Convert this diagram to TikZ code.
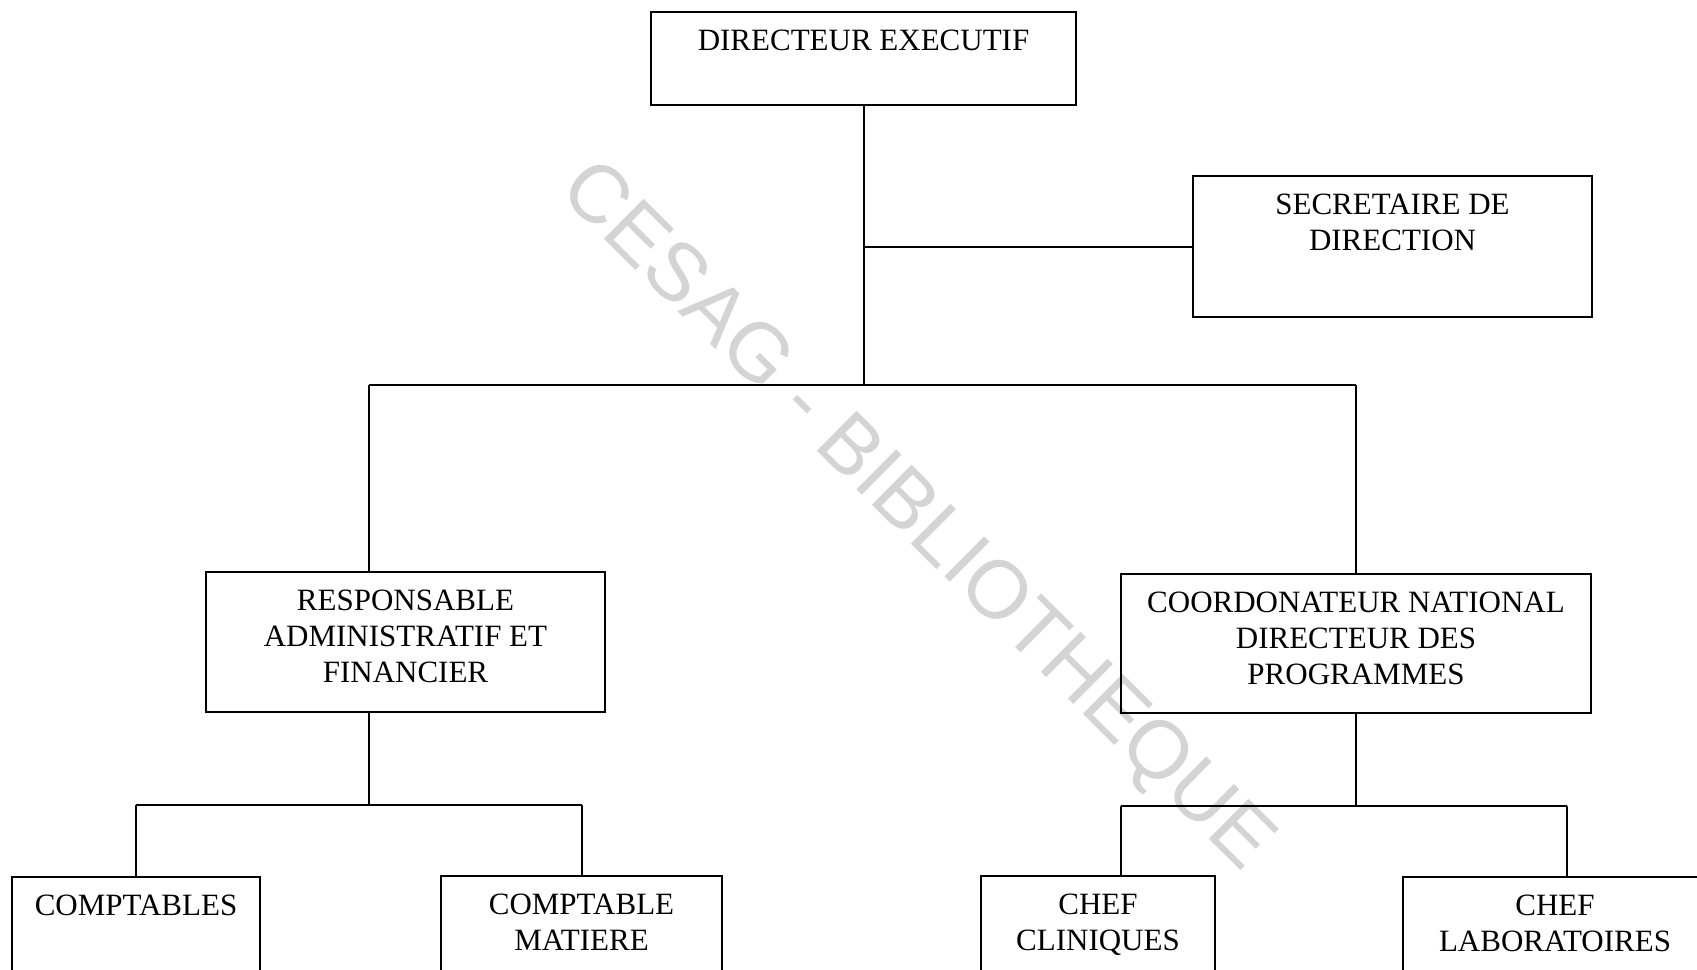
\documentclass[tikz,border=0pt]{standalone}
\usepackage{fontspec}
\setmainfont{Liberation Serif}
\newfontfamily\wmfont{Liberation Sans}
\usetikzlibrary{fit}
\begin{document}
\begin{tikzpicture}[x=0.5pt,y=-0.5pt,
  box/.style={draw, line width=1pt, inner sep=0pt},
  lbl/.style={font=\fontsize{15.5}{18}\selectfont, align=center, inner sep=0pt, anchor=north},
  link/.style={line width=1pt}]
\useasboundingbox (0,0) rectangle (1697,969);
\clip (0,0) rectangle (1697,969);
\fill[white] (0,0) rectangle (1697,969);
% watermark
\node[font=\wmfont\fontsize{41}{41}\selectfont, text=black!17, rotate=-44.8, inner sep=0pt] (wm) at (915,518) {CESAG - BIBLIOTHEQUE};
% boxes
\node[box, fit={(651,12) (1076,105)}] (dir) {};
\node[box, fit={(1193,176) (1592,317)}] (sec) {};
\node[box, fit={(206,572) (605,712)}] (raf) {};
\node[box, fit={(1121,574) (1591,713)}] (cn) {};
\node[box, fit={(12,877) (260,1000)}] (cpt) {};
\node[box, fit={(441,876) (722,1000)}] (cm) {};
\node[box, fit={(981,876) (1215,1000)}] (cc) {};
\node[box, fit={(1403,877) (1707,1000)}] (cl) {};
% texts
\node[lbl] (dirT) at ([yshift=-9.5pt]dir.north) {DIRECTEUR EXECUTIF};
\node[lbl] (secT) at ([yshift=-9.5pt]sec.north) {SECRETAIRE DE\\DIRECTION};
\node[lbl] (rafT) at ([yshift=-9.5pt]raf.north) {RESPONSABLE\\ADMINISTRATIF ET\\FINANCIER};
\node[lbl] (cnT) at ([yshift=-9.5pt]cn.north) {COORDONATEUR NATIONAL\\DIRECTEUR DES\\PROGRAMMES};
\node[lbl] (cptT) at ([yshift=-9.5pt]cpt.north) {COMPTABLES};
\node[lbl] (cmT) at ([yshift=-9.5pt]cm.north) {COMPTABLE\\MATIERE};
\node[lbl] (ccT) at ([yshift=-9.5pt]cc.north) {CHEF\\CLINIQUES};
\node[lbl] (clT) at ([yshift=-9.5pt]cl.north) {CHEF\\LABORATOIRES};
% junction coordinates
\coordinate (j0) at (863.5,385);
\coordinate (barL) at (369,385);
\coordinate (barR) at (1356,385);
\coordinate (l1) at (369,805);
\coordinate (r1) at (1356,806);
\coordinate (rA) at (1121,806);
\coordinate (rB) at (1567,806);
% connectors
\draw[link] (dir.south) -- (j0);
\draw[link] (dir.south |- sec.west) -- (sec.west);
\draw[link] (barL) -- (barR);
\draw[link] (barL) -- (barL |- raf.north);
\draw[link] (barR) -- (barR |- cn.north);
\draw[link] (l1 |- raf.south) -- (l1);
\draw[link] (cpt.north |- l1) -- (cm.north |- l1);
\draw[link] (cpt.north |- l1) -- (cpt.north);
\draw[link] (cm.north |- l1) -- (cm.north);
\draw[link] (cn.south) -- (r1);
\draw[link] (rA) -- (rB);
\draw[link] (rA) -- (rA |- cc.north);
\draw[link] (rB) -- (rB |- cl.north);
\end{tikzpicture}
\end{document}
